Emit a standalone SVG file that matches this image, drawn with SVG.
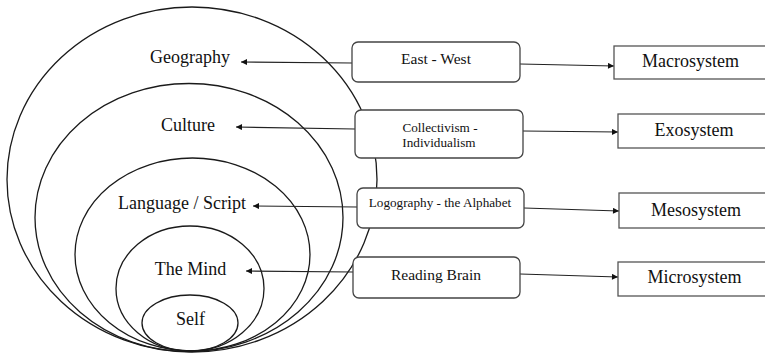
<svg xmlns="http://www.w3.org/2000/svg" width="765" height="358" viewBox="0 0 765 358">
<defs>
<marker id="ah" viewBox="0 0 10 10" refX="10" refY="5" markerWidth="7" markerHeight="6" markerUnits="userSpaceOnUse" orient="auto">
<path d="M0,0 L10,5 L0,10 z" fill="#111"/>
</marker>
<style>
.ring{fill:none;stroke:#1a1a1a;stroke-width:1.3}
.rbox{fill:#fff;stroke:#444;stroke-width:1.3}
.sbox{fill:#fff;stroke:#555;stroke-width:1.3}
.conn{fill:none;stroke:#222;stroke-width:1.2;marker-end:url(#ah)}
text{font-family:"Liberation Serif","Times New Roman",serif;fill:#111;text-anchor:middle}
.big{font-size:18px}
.mid{font-size:15.5px}
.sm{font-size:13.2px}
</style>
</defs>
<rect width="765" height="358" fill="#fff"/>
<g id="rings">
<g id="geography"><ellipse class="ring" cx="192" cy="179.5" rx="185" ry="172.5"/><text class="big" x="190" y="63">Geography</text></g>
<g id="culture"><ellipse class="ring" cx="189" cy="217.5" rx="154" ry="134"/><text class="big" x="188" y="131">Culture</text></g>
<g id="language"><ellipse class="ring" cx="192.5" cy="254.5" rx="117.5" ry="96.5"/><text class="big" x="182" y="209">Language / Script</text></g>
<g id="mind"><ellipse class="ring" cx="190" cy="288.5" rx="74" ry="62.5"/><text class="big" x="190.5" y="275">The Mind</text></g>
<g id="self"><ellipse class="ring" cx="190" cy="323" rx="48" ry="28"/><text class="big" x="190.5" y="325">Self</text></g>
</g>
<g id="connectors">
<line class="conn" x1="352" y1="63" x2="241" y2="62"/>
<line class="conn" x1="355" y1="129" x2="236" y2="127"/>
<line class="conn" x1="357" y1="207" x2="253" y2="206"/>
<line class="conn" x1="353" y1="272" x2="246" y2="271"/>
<line class="conn" x1="520" y1="64" x2="614" y2="66"/>
<line class="conn" x1="523" y1="131" x2="618" y2="132"/>
<line class="conn" x1="524" y1="208" x2="619" y2="211"/>
<line class="conn" x1="520" y1="274" x2="618" y2="277"/>
</g>
<g id="eastwest"><rect class="rbox" x="352" y="42" width="168" height="40" rx="6"/><text class="mid" x="436" y="64">East - West</text></g>
<g id="collectivism"><rect class="rbox" x="355" y="110" width="168" height="48" rx="6"/><text class="sm" x="440" y="132">Collectivism -</text><text class="sm" x="439" y="147">Individualism</text></g>
<g id="logography"><rect class="rbox" x="357" y="188" width="167" height="40" rx="6"/><text class="sm" x="440" y="207">Logography - the Alphabet</text></g>
<g id="readingbrain"><rect class="rbox" x="353" y="257" width="167" height="41" rx="6"/><text class="mid" x="436" y="280">Reading Brain</text></g>
<g id="macrosystem"><rect class="sbox" x="614" y="46" width="160" height="33"/><text class="big" x="690.5" y="67">Macrosystem</text></g>
<g id="exosystem"><rect class="sbox" x="618" y="114" width="160" height="34"/><text class="big" x="694" y="136">Exosystem</text></g>
<g id="mesosystem"><rect class="sbox" x="619" y="193" width="160" height="35"/><text class="big" x="696" y="216">Mesosystem</text></g>
<g id="microsystem"><rect class="sbox" x="618" y="262" width="160" height="34"/><text class="big" x="694.5" y="283">Microsystem</text></g>
</svg>
